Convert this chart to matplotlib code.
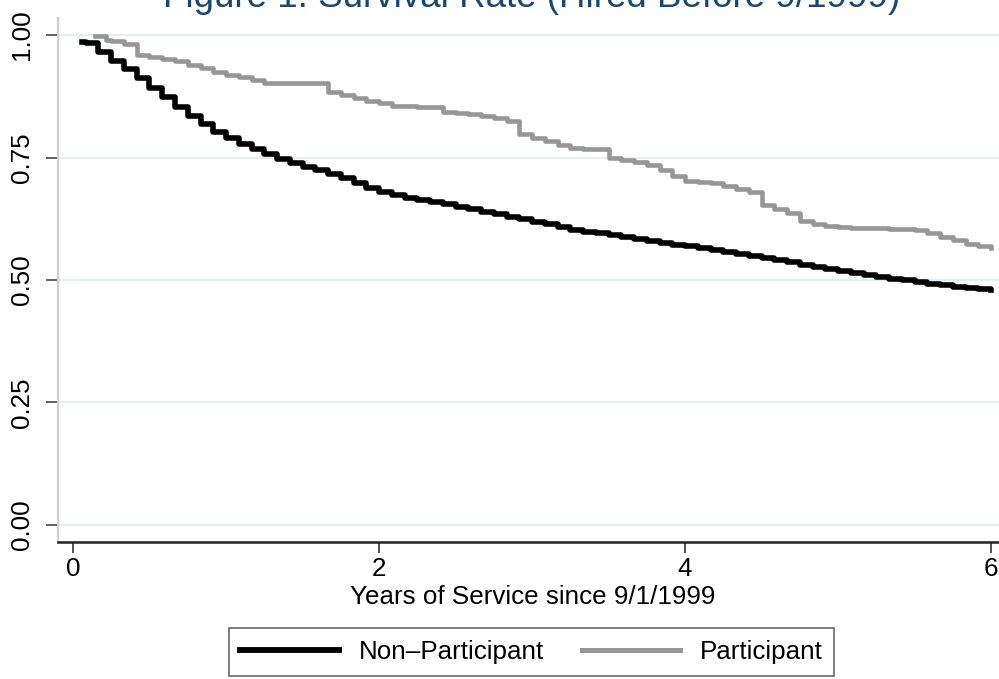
"""Survival rate of teachers hired before 9/1999, by participation."""

import matplotlib.pyplot as plt
import numpy as np

# months since 9/1/1999 at which each curve is read
non_part_months = [0.7, 1, 2, 3, 4, 5, 6, 7, 8, 9, 10, 11, 12,
                   13, 14, 15, 16, 17, 18, 19, 20, 21, 22, 23, 24,
                   25, 26, 27, 28, 29, 30, 31, 32, 33, 34, 35, 36,
                   37, 38, 39, 40, 41, 42, 43, 44, 45, 46, 47, 48,
                   49, 50, 51, 52, 53, 54, 55, 56, 57, 58, 59, 60,
                   61, 62, 63, 64, 65, 66, 67, 68, 69, 70, 71, 72]
non_part_surv = [0.985, 0.984, 0.966, 0.948, 0.930, 0.912, 0.893, 0.873, 0.853, 0.835, 0.818, 0.802, 0.789,
                 0.778, 0.767, 0.757, 0.747, 0.738, 0.731, 0.724, 0.717, 0.708, 0.698, 0.688, 0.679,
                 0.673, 0.668, 0.664, 0.660, 0.655, 0.650, 0.644, 0.639, 0.634, 0.629, 0.624, 0.619,
                 0.614, 0.609, 0.603, 0.599, 0.595, 0.591, 0.587, 0.583, 0.580, 0.576, 0.572, 0.569,
                 0.565, 0.561, 0.557, 0.553, 0.549, 0.544, 0.540, 0.536, 0.531, 0.527, 0.523, 0.519,
                 0.515, 0.511, 0.507, 0.503, 0.499, 0.495, 0.492, 0.489, 0.486, 0.484, 0.482, 0.480]

part_months = [1.7, 2.6, 3, 4, 5, 6, 7, 8, 9, 10, 11, 12,
               13, 14, 15, 16, 17, 18, 19, 20, 21, 22, 23, 24,
               25, 26, 27, 28, 29, 30, 31, 32, 33, 34, 35, 36,
               37, 38, 39, 40, 41, 42, 43, 44, 45, 46, 47, 48,
               49, 50, 51, 52, 53, 54, 55, 56, 57, 58, 59, 60,
               61, 62, 63, 64, 65, 66, 67, 68, 69, 70, 71, 72]
part_surv = [0.998, 0.990, 0.988, 0.982, 0.960, 0.955, 0.951, 0.948, 0.940, 0.932, 0.925, 0.919,
             0.914, 0.908, 0.903, 0.903, 0.903, 0.903, 0.903, 0.884, 0.878, 0.872, 0.866, 0.861,
             0.856, 0.855, 0.854, 0.853, 0.843, 0.841, 0.838, 0.835, 0.830, 0.825, 0.798, 0.790,
             0.783, 0.776, 0.769, 0.768, 0.767, 0.749, 0.745, 0.740, 0.734, 0.725, 0.712, 0.702,
             0.700, 0.698, 0.692, 0.686, 0.680, 0.653, 0.645, 0.636, 0.620, 0.614, 0.610, 0.608,
             0.607, 0.606, 0.606, 0.605, 0.604, 0.603, 0.596, 0.588, 0.581, 0.574, 0.569, 0.565]

x_ticks = [0, 2, 4, 6]
y_ticks = [0.0, 0.25, 0.5, 0.75, 1.0]
y_tick_labels = ["0.00", "0.25", "0.50", "0.75", "1.00"]

plt.rcParams["font.family"] = ["Liberation Sans", "DejaVu Sans"]
FS = 18.7

fig = plt.figure(figsize=(9.99, 6.79), dpi=100)
ax = fig.add_axes([58 / 999, 1 - 542 / 679, 941 / 999, 524 / 679])

for y in y_ticks:
    ax.axhline(y, color="#e6eef1", linewidth=1.6, zorder=0)

ax.plot(np.array(non_part_months) / 12, non_part_surv, drawstyle="steps-post",
        color="black", linewidth=4.0, label="Non\u2013Participant", zorder=3)
ax.plot(np.array(part_months) / 12, part_surv, drawstyle="steps-post",
        color="#969696", linewidth=3.3, label="Participant", zorder=2)

ax.set_xlim(-0.098, 6.052)
ax.set_ylim(-0.035, 1.035)

ax.set_xticks(x_ticks)
ax.set_xticklabels([str(t) for t in x_ticks], fontsize=FS)
ax.set_yticks(y_ticks)
ax.set_yticklabels(y_tick_labels, fontsize=FS)
for lab in ax.get_yticklabels():
    lab.set_rotation(90)
    lab.set_va("center")

ax.tick_params(axis="x", length=8, width=1.2, color="#333333", pad=2.5)
ax.tick_params(axis="y", length=9, width=1.2, color="#444444", pad=8)

for side in ["top", "right"]:
    ax.spines[side].set_visible(False)
ax.spines["left"].set_color("#cfcfcf")
ax.spines["left"].set_linewidth(1.6)
ax.spines["bottom"].set_color("#222222")
ax.spines["bottom"].set_linewidth(1.8)

ax.set_xlabel("Years of Service since 9/1/1999", fontsize=FS)
ax.xaxis.set_label_coords(0.5045, -0.083)

fig.text(532 / 999, 1 - 7 / 679, "Figure 1: Survival Rate (Hired Before 9/1999)",
         ha="center", va="baseline", fontsize=26.5, color="#1a476f")

leg = fig.legend(loc="center", bbox_to_anchor=(531.5 / 999, 1 - 652 / 679), ncol=2,
                 fontsize=FS, frameon=True, fancybox=False, edgecolor="#404040",
                 handlelength=3.8, handletextpad=0.75, columnspacing=1.45,
                 borderpad=0.45)
leg.get_frame().set_linewidth(1.2)
for line in leg.get_lines():
    line.set_linewidth(4.2 if line.get_color() == "black" else 3.6)

fig.savefig("out.png", dpi=100)
